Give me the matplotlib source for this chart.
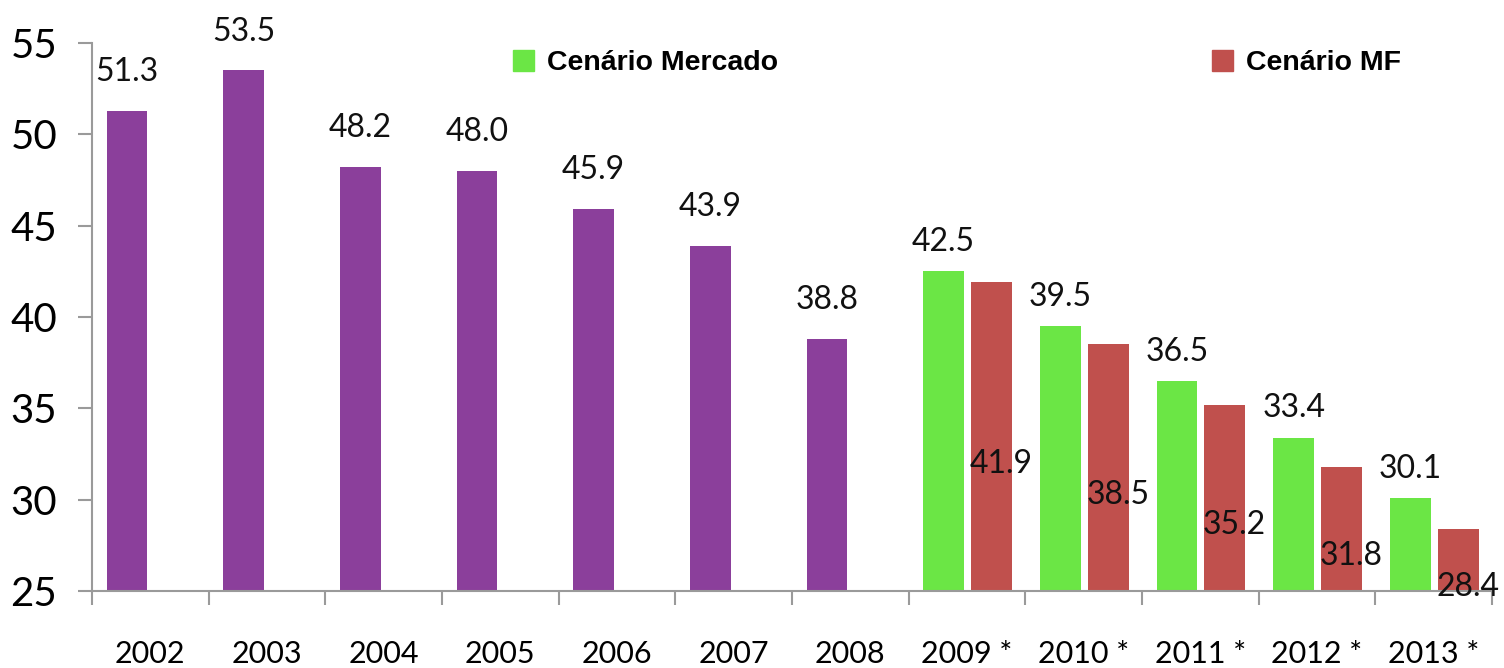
import numpy as np
import matplotlib
matplotlib.use("Agg")
import matplotlib.pyplot as plt
from matplotlib.patches import Patch

# data
years = ["2002", "2003", "2004", "2005", "2006", "2007", "2008",
         "2009 *", "2010 *", "2011 *", "2012 *", "2013 *"]
historico = [51.3, 53.5, 48.2, 48.0, 45.9, 43.9, 38.8]
mercado = [42.5, 39.5, 36.5, 33.4, 30.1]
mf = [41.9, 38.5, 35.2, 31.8, 28.4]

purple = "#8B3F9B"
green = "#6BE645"
red = "#C0504D"
gray = "#9A9A9A"

num_font = ["Lato", "DejaVu Sans"]
leg_font = ["Liberation Sans", "DejaVu Sans"]

fig = plt.figure(figsize=(15.04, 6.68), dpi=100)
ax = fig.add_axes([92 / 1504, 77 / 668, 1400 / 1504, 548 / 668])

x = np.arange(len(years))
xh = x[:len(historico)]
xp = x[len(historico):]
w = 0.35

ax.bar(xh - 0.2, historico, w, color=purple)
ax.bar(xp - 0.2, mercado, w, color=green)
ax.bar(xp + 0.21, mf, w, color=red)

# value labels
for xi, v in zip(xh, historico):
    ax.annotate(f"{v:.1f}", (xi - 0.2, v), xytext=(0, 28), textcoords="offset points",
                ha="center", va="center", fontsize=23, family=num_font, color="#111111")
for xi, v in zip(xp, mercado):
    ax.annotate(f"{v:.1f}", (xi - 0.2, v), xytext=(0, 21), textcoords="offset points",
                ha="center", va="center", fontsize=23, family=num_font, color="#111111")
# Excel put the MF labels inside the bars, about half way down
for xi, v in zip(xp, mf):
    ax.annotate(f"{v:.1f}", (xi + 0.21, v / 2 + 11), xytext=(7, 0), textcoords="offset points",
                ha="center", va="center", fontsize=23, family=num_font, color="#111111")

ax.set_xlim(-0.5, len(years) - 0.5)
ax.set_ylim(25, 55)
ax.set_yticks(np.arange(25, 56, 5))

ax.set_xticks(x)
ax.set_xticklabels(years, fontsize=22, family=num_font)
ax.set_xticks(np.arange(-0.5, len(years)), minor=True)
ax.tick_params(axis="x", which="major", length=0, pad=35)
ax.tick_params(axis="x", which="minor", length=10, width=1.5, color=gray)
ax.tick_params(axis="y", length=10, width=1.5, color=gray, pad=15, labelsize=29)
for lab in ax.get_yticklabels():
    lab.set_family(num_font)

for s in ["top", "right"]:
    ax.spines[s].set_visible(False)
for s in ["left", "bottom"]:
    ax.spines[s].set_color(gray)
    ax.spines[s].set_linewidth(1.5)

# two separate legend entries, as in the original
leg_kw = dict(frameon=False, borderpad=0, borderaxespad=0, handlelength=0.75,
              handleheight=0.8, handletextpad=0.45, loc="center left",
              bbox_transform=fig.transFigure,
              prop={"family": leg_font, "weight": "bold", "size": 20.5})
leg1 = ax.legend(handles=[Patch(color=green, label="Cenário Mercado")],
                 bbox_to_anchor=(513 / 1504, 1 - 63 / 668), **leg_kw)
ax.add_artist(leg1)
ax.legend(handles=[Patch(color=red, label="Cenário MF")],
          bbox_to_anchor=(1212 / 1504, 1 - 63 / 668), **leg_kw)

plt.savefig("out.png", dpi=100)
plt.close()
